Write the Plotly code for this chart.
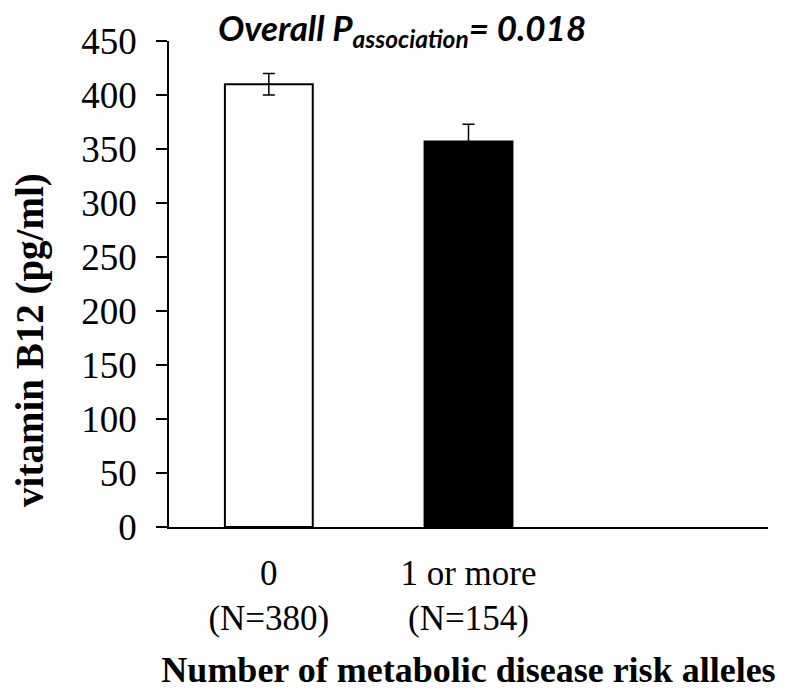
import plotly.graph_objects as go

categories = ["0<br>(N=380)", "1 or more<br>(N=154)"]
positions = [0, 1]
values = [410, 357]
errors = [10, 16]
fill_colors = ["white", "black"]
y_ticks = [0, 50, 100, 150, 200, 250, 300, 350, 400, 450]

fig = go.Figure()
fig.add_trace(go.Bar(
    x=positions,
    y=values,
    width=0.44,
    marker=dict(color=fill_colors, line=dict(color="black", width=2)),
    error_y=dict(type="data", array=errors, visible=True, color="black",
                 thickness=1.5, width=6),
    showlegend=False,
))

serif = "Liberation Serif, Times New Roman, serif"

fig.update_layout(
    width=803, height=690,
    margin=dict(l=169, r=35, t=41, b=163, autoexpand=False),
    plot_bgcolor="white", paper_bgcolor="white",
    xaxis=dict(
        range=[-0.5, 2.5],
        tickvals=positions, ticktext=categories,
        showline=True, linecolor="black", linewidth=1.5,
        ticks="", showgrid=False, zeroline=False,
        automargin=False,
        tickfont=dict(family=serif, size=35, color="black"),
        ticklabelstandoff=14,
        title=dict(text="<b>Number of metabolic disease risk alleles</b>",
                   font=dict(family=serif, size=36, color="black"), standoff=26),
    ),
    yaxis=dict(
        range=[0, 450],
        tickvals=y_ticks,
        showline=True, linecolor="black", linewidth=1.5,
        ticks="outside", ticklen=11, tickwidth=1.5, tickcolor="black",
        showgrid=False, zeroline=False,
        automargin=False,
        tickfont=dict(family=serif, size=37, color="black"),
        ticklabelstandoff=12,
    ),
    annotations=[
        dict(
            text="<b><i>Overall P<sub>association</sub>= 0.018</i></b>",
            x=0.389, xref="paper", y=1.0, yref="paper",
            xanchor="center", yanchor="middle", yshift=12,
            showarrow=False,
            font=dict(family="Lato, Carlito, sans-serif", size=35, color="black"),
        ),
        dict(
            text="<b>vitamin B12 (pg/ml)</b>",
            textangle=-90,
            x=-0.232, xref="paper", y=0.385, yref="paper",
            xanchor="center", yanchor="middle",
            showarrow=False,
            font=dict(family=serif, size=39, color="black"),
        ),
    ],
)

fig.write_html("out.html")
